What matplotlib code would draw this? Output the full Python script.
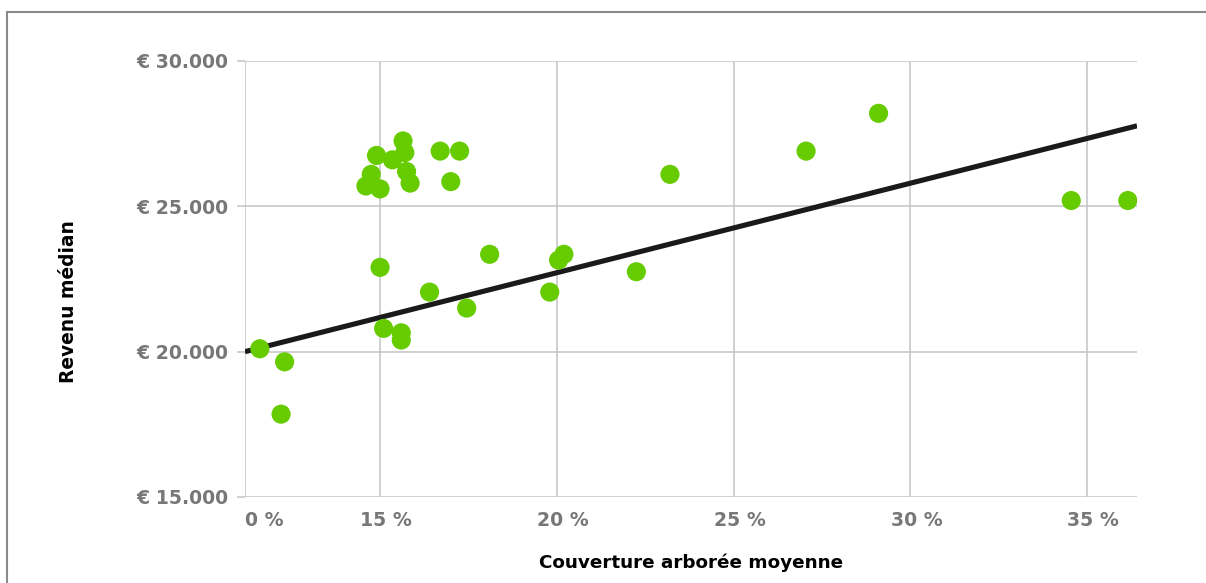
import matplotlib
matplotlib.use("Agg")
import matplotlib.pyplot as plt
import matplotlib.transforms as mtransforms
from matplotlib.lines import Line2D

# ── Data ──────────────────────────────────────────────────────────────────────
cover_pct = [11.6, 12.3, 12.2, 14.6, 14.75, 14.9, 15.0, 15.0, 15.1, 15.35,
             15.65, 15.7, 15.75, 15.85, 15.6, 15.6, 16.4, 16.7, 17.0, 17.25,
             17.45, 18.1, 19.8, 20.05, 20.2, 22.25, 23.2, 27.05, 29.1, 34.55,
             36.15]
income_eur = [20100, 19650, 17850, 25700, 26100, 26750, 25600, 22900, 20800, 26600,
              27250, 26850, 26200, 25800, 20650, 20400, 22050, 26900, 25850, 26900,
              21500, 23350, 22050, 23150, 23350, 22750, 26100, 26900, 28200, 25200,
              25200]

X_MIN, X_MAX = 11.18, 36.41
trend_x = [X_MIN, X_MAX]
trend_y = [20000, 27770]

x_ticks = [X_MIN, 15, 20, 25, 30, 35]
x_labels = ["0 %", "15 %", "20 %", "25 %", "30 %", "35 %"]
y_ticks = [15000, 20000, 25000, 30000]
y_labels = ["€ 15.000", "€ 20.000", "€ 25.000", "€ 30.000"]

# ── Style ─────────────────────────────────────────────────────────────────────
GREEN = "#66CC00"
DARK = "#1a1a1a"
GRID = "#c4c4c4"
TICK_TXT = "#777777"

plt.rcParams.update({
    "font.family": "DejaVu Sans",
    "font.weight": "bold",
})

fig = plt.figure(figsize=(12.06, 5.83), dpi=100)
ax = fig.add_axes([245 / 1206, 1 - 497 / 583, (1137 - 245) / 1206, (497 - 61) / 583])

ax.plot(trend_x, trend_y, color=DARK, linewidth=3.7, solid_capstyle="butt", zorder=3)
ax.scatter(cover_pct, income_eur, s=190, color=GREEN, edgecolors="none", zorder=4)

ax.set_xlim(X_MIN, X_MAX)
ax.set_ylim(15000, 30000)
ax.set_xticks(x_ticks)
ax.set_xticklabels(x_labels)
ax.set_yticks(y_ticks)
ax.set_yticklabels(y_labels)

for s in ax.spines.values():
    s.set_visible(False)
ax.grid(True, color=GRID, linewidth=1.1, zorder=0)
ax.set_axisbelow(True)

ax.tick_params(axis="y", length=6, width=1.1, color=GRID, pad=6,
               labelsize=13.6, labelcolor=TICK_TXT)
ax.tick_params(axis="x", length=0, pad=10, labelsize=13.6, labelcolor=TICK_TXT)
for lab in ax.get_yticklabels() + ax.get_xticklabels():
    lab.set_fontweight("bold")

shift = mtransforms.ScaledTranslation(6 / 100, 0, fig.dpi_scale_trans)
xlabs = ax.get_xticklabels()
xlabs[0].set_horizontalalignment("left")
for lab in xlabs[1:]:
    lab.set_transform(lab.get_transform() + shift)

ax.set_xlabel("Couverture arborée moyenne", fontsize=13.2, fontweight="bold",
              color="black", labelpad=17)
fig.text(68 / 1206, 1 - 302 / 583, "Revenu médian", rotation=90,
         ha="center", va="center", fontsize=13.4, fontweight="bold", color="black")

# frame border (top and left)
fig.add_artist(Line2D([7 / 1206, 1], [1 - 12 / 583, 1 - 12 / 583],
                      color="#8a8a8a", linewidth=1.5, transform=fig.transFigure))
fig.add_artist(Line2D([7 / 1206, 7 / 1206], [0, 1 - 12 / 583],
                      color="#8a8a8a", linewidth=1.5, transform=fig.transFigure))

fig.savefig("out.png", dpi=100)
